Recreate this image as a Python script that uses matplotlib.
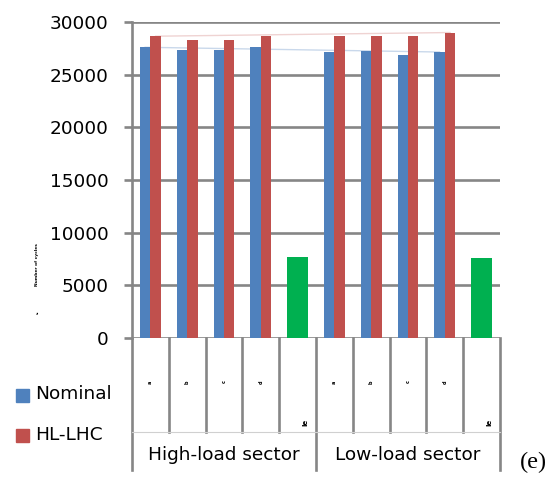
import numpy as np
import matplotlib.pyplot as plt
import matplotlib.transforms as mtransforms
from matplotlib.patches import Rectangle

plt.rcParams['font.family'] = ['DejaVu Sans']

# data
groups = ['High-load sector', 'Low-load sector']
cell_labels = ['a', 'b', 'c', 'd', 'e', 'a', 'b', 'c', 'd', 'e']
nominal = [27600, 27350, 27350, 27600, np.nan, 27150, 27200, 26900, 27150, np.nan]
hl_lhc = [28650, 28300, 28300, 28650, np.nan, 28700, 28700, 28700, 29000, np.nan]
other = [np.nan, np.nan, np.nan, np.nan, 7650, np.nan, np.nan, np.nan, np.nan, 7550]

blue = '#4F81BD'
red = '#C0504D'
green = '#00B050'
grey = '#868686'

fig = plt.figure(figsize=(5.59, 4.79), dpi=100)
ax = fig.add_axes([132/559, 141/479, 368/559, 316/479])

x = np.arange(len(cell_labels))
w = 0.285
ax.bar(x - w/2, nominal, w, color=blue, zorder=3)
ax.bar(x + w/2, hl_lhc, w, color=red, zorder=3)
ax.bar(x, other, 2*w, color=green, zorder=3)

# faint lines between bar tops
ax.plot([x[0] - w/2, x[8] - w/2], [nominal[0], nominal[8]], color=blue, alpha=0.3, lw=1, zorder=2)
ax.plot([x[0] + w/2, x[8] + w/2], [hl_lhc[0], hl_lhc[8]], color=red, alpha=0.25, lw=1, zorder=2)

ax.set_xlim(-0.5, 9.5)
ax.set_ylim(0, 30000)
ax.set_yticks(range(0, 30001, 5000))
ax.yaxis.grid(True, color=grey, lw=1.9, zorder=0)
ax.tick_params(axis='y', length=6, width=1.9, color=grey, pad=11, labelsize=13.3)
ax.set_xticks([])
for s in ['top', 'right', 'bottom']:
    ax.spines[s].set_visible(False)
ax.spines['left'].set_color(grey)
ax.spines['left'].set_linewidth(1.9)

# category table below the axis
trans = mtransforms.blended_transform_factory(ax.transData, ax.transAxes)
lvl1 = -94/316
lvl2 = -132/316
for i in range(len(cell_labels) + 1):
    xb = i - 0.5
    bottom = lvl2 if i in (0, 5, 10) else lvl1
    ax.plot([xb, xb], [0, bottom], transform=trans, color=grey, lw=1.9, clip_on=False)
ax.plot([-0.5, 9.5], [lvl1, lvl1], transform=trans, color='#d0d0d0', lw=0.8, clip_on=False)

for i, lab in enumerate(cell_labels):
    if np.isnan(other[i]):
        ax.text(i, -44/316, lab, transform=trans, fontsize=3.5, fontweight='bold',
                rotation=90, ha='center', va='center')
    else:
        ax.text(i + 0.2, -84/316, 'l' + lab, transform=trans, fontsize=5, fontweight='bold',
                rotation=90, ha='center', va='center')

ax.text(2, -117/316, groups[0], transform=trans, fontsize=13.3, ha='center', va='center')
ax.text(7, -117/316, groups[1], transform=trans, fontsize=13.3, ha='center', va='center')

# tiny y label
fig.text(37/559, 1 - 265/479, 'Number of cycles', rotation=90, fontsize=3.2,
         fontweight='bold', ha='center', va='center')
fig.text(37/559, 1 - 312/479, ',', fontsize=5, fontweight='bold', ha='center', va='center')

# legend
fig.patches.append(Rectangle((16/559, 1 - 402/479), 13/559, 13/479, color=blue,
                             transform=fig.transFigure))
fig.patches.append(Rectangle((16/559, 1 - 442/479), 13/559, 13/479, color=red,
                             transform=fig.transFigure))
fig.text(35/559, 1 - 394/479, 'Nominal', fontsize=13.3, va='center')
fig.text(35/559, 1 - 435/479, 'HL-LHC', fontsize=13.3, va='center')

fig.text(520/559, 1 - 462/479, '(e)', fontsize=17.5, family='Liberation Serif', va='center')

fig.savefig('out.png', dpi=100)
